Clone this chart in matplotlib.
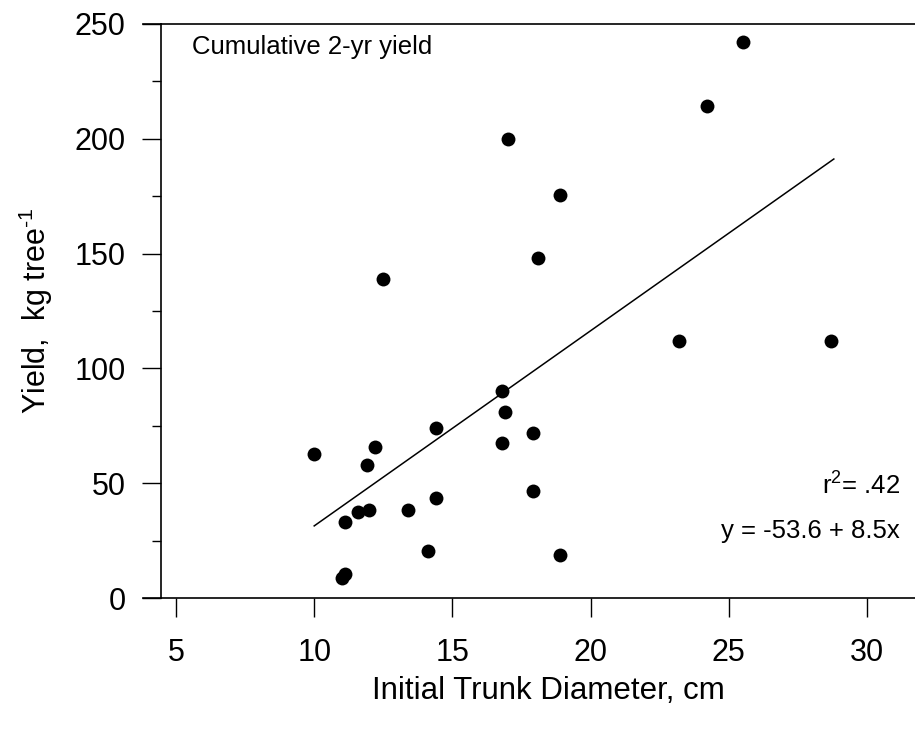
import numpy as np
import matplotlib
matplotlib.use("Agg")
import matplotlib.pyplot as plt
from matplotlib.ticker import MultipleLocator

plt.rcParams['font.family'] = ['Liberation Sans', 'DejaVu Sans']
plt.rcParams['mathtext.default'] = 'regular'

# trunk diameter (cm) and cumulative yield (kg/tree)
diameter = [10.0, 12.2, 11.9, 14.4, 11.1, 11.6, 12.0, 13.4, 14.4, 14.1,
            11.0, 11.1, 16.8, 16.9, 16.8, 17.9, 17.9, 18.9, 17.0, 18.9,
            18.1, 25.5, 24.2, 23.2, 28.7, 12.5]
yield_kg = [62.7, 65.9, 57.9, 74.0, 33.0, 37.3, 38.3, 38.3, 43.4, 20.6,
            8.6, 10.4, 90.2, 81.0, 67.7, 71.9, 46.5, 18.6, 200.0, 175.7,
            148.2, 242.2, 214.1, 112.1, 111.8, 138.8]

intercept = -53.6
slope = 8.5
fit_x = [10.0, 28.8]

xticks = [5, 10, 15, 20, 25, 30]
yticks = [0, 50, 100, 150, 200, 250]

W, H = 915, 731
fig = plt.figure(figsize=(W / 100, H / 100), dpi=100)
left_px, right_px, top_px, bot_px = 161, 935, 24, 598
ax = fig.add_axes([left_px / W, 1 - bot_px / H,
                   (right_px - left_px) / W, (bot_px - top_px) / H])

px_per_unit = 27.64
ax.set_xlim(5 - (176 - left_px) / px_per_unit, 5 + (right_px - 176) / px_per_unit)
ax.set_ylim(0, 250)

ax.scatter(diameter, yield_kg, s=100, color='black', zorder=3, linewidths=0)
fx = np.array(fit_x)
ax.plot(fx, intercept + slope * fx, color='black', lw=1.1)

ax.set_xticks(xticks)
ax.set_yticks(yticks)
ax.yaxis.set_minor_locator(MultipleLocator(25))
ax.tick_params(axis='both', which='major', direction='out', length=13.5,
               width=1.0, labelsize=22, colors='black')
ax.tick_params(axis='y', which='minor', direction='out', length=6.5, width=1.0)
ax.tick_params(axis='y', pad=12)
ax.tick_params(axis='x', pad=15)

ax.spines['right'].set_visible(False)
for side in ['left', 'top', 'bottom']:
    ax.spines[side].set_linewidth(1.2)

# frame lines extend a bit to the left of the y axis
ext = -(left_px - 143) / (right_px - left_px)
ax.plot([ext, 0], [0, 0], transform=ax.transAxes, color='black', lw=1.2, clip_on=False)
ax.plot([ext, 0], [1, 1], transform=ax.transAxes, color='black', lw=1.2, clip_on=False)

ax.set_xlabel('Initial Trunk Diameter, cm', fontsize=22.5, labelpad=6)
ax.set_ylabel('Yield,  kg tree$^{\u2010 1}$', fontsize=22, labelpad=14)

fig.text(192 / W, 1 - 54 / H, 'Cumulative 2-yr yield', fontsize=18.5,
         ha='left', va='baseline')
fig.text(900 / W, 1 - 495 / H, 'r$^2$= .42', fontsize=18.5, ha='right', va='baseline')
fig.text(900 / W, 1 - 538 / H, 'y = -53.6 + 8.5x', fontsize=18.5, ha='right', va='baseline')

fig.savefig('out.png', dpi=100)
